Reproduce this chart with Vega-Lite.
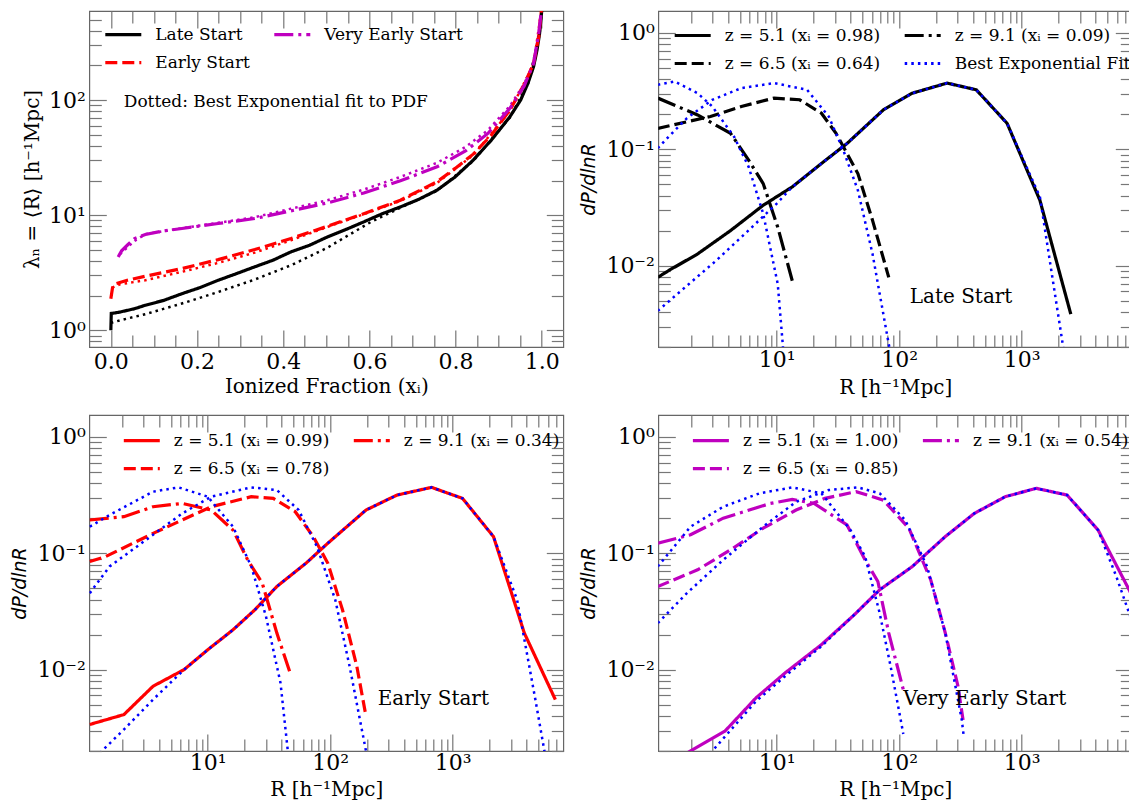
{
  "$schema": "https://vega.github.io/schema/vega-lite/v6.json",
  "autosize": {"type": "none"},
  "padding": {"left": 89.3, "top": 11, "right": 1040, "bottom": 792},
  "background": "white",
  "config": {
    "view": {"stroke": "#666", "strokeWidth": 1.2},
    "axis": {"grid": false, "domain": false, "tickColor": "#777", "tickWidth": 1.2, "labelFont": "DejaVu Serif", "labelFontSize": 22, "labelColor": "black", "titleFont": "DejaVu Serif", "titleFontSize": 20, "titleFontWeight": "normal", "titleColor": "black", "labelOverlap": false, "labelFlush": false},
    "legend": {"columns": 2, "columnPadding": 17, "gridAlign": "each", "rowPadding": -11, "symbolType": "stroke", "symbolSize": 1296, "symbolStrokeWidth": 3.2, "labelFont": "DejaVu Serif", "labelFontSize": 17, "labelOffset": 12, "labelLimit": 600, "labelColor": "black", "padding": 0}
  },
  "datasets": {
    "p1": [
      {"m": "Late Start", "x": 0, "y": 1.0}, {"m": "Late Start", "x": 0.001, "y": 1.40}, {"m": "Late Start", "x": 0.021, "y": 1.44}, {"m": "Late Start", "x": 0.055, "y": 1.54}, {"m": "Late Start", "x": 0.080, "y": 1.65}, {"m": "Late Start", "x": 0.123, "y": 1.82}, {"m": "Late Start", "x": 0.165, "y": 2.08}, {"m": "Late Start", "x": 0.207, "y": 2.35}, {"m": "Late Start", "x": 0.249, "y": 2.72}, {"m": "Late Start", "x": 0.292, "y": 3.11}, {"m": "Late Start", "x": 0.334, "y": 3.56}, {"m": "Late Start", "x": 0.376, "y": 4.06}, {"m": "Late Start", "x": 0.418, "y": 4.80}, {"m": "Late Start", "x": 0.461, "y": 5.48}, {"m": "Late Start", "x": 0.503, "y": 6.48}, {"m": "Late Start", "x": 0.545, "y": 7.50}, {"m": "Late Start", "x": 0.587, "y": 8.75}, {"m": "Late Start", "x": 0.630, "y": 10.3}, {"m": "Late Start", "x": 0.672, "y": 11.8}, {"m": "Late Start", "x": 0.714, "y": 13.7}, {"m": "Late Start", "x": 0.757, "y": 16.5}, {"m": "Late Start", "x": 0.799, "y": 21.5}, {"m": "Late Start", "x": 0.841, "y": 30.1}, {"m": "Late Start", "x": 0.883, "y": 44.9}, {"m": "Late Start", "x": 0.926, "y": 71.6}, {"m": "Late Start", "x": 0.951, "y": 100}, {"m": "Late Start", "x": 0.968, "y": 140}, {"m": "Late Start", "x": 0.981, "y": 195}, {"m": "Late Start", "x": 0.989, "y": 272}, {"m": "Late Start", "x": 0.995, "y": 380}, {"m": "Late Start", "x": 1.0, "y": 600},
      {"m": "Early Start", "x": 0, "y": 1.88}, {"m": "Early Start", "x": 0.004, "y": 2.35}, {"m": "Early Start", "x": 0.013, "y": 2.55}, {"m": "Early Start", "x": 0.038, "y": 2.72}, {"m": "Early Start", "x": 0.080, "y": 2.95}, {"m": "Early Start", "x": 0.165, "y": 3.44}, {"m": "Early Start", "x": 0.249, "y": 4.11}, {"m": "Early Start", "x": 0.334, "y": 5.03}, {"m": "Early Start", "x": 0.418, "y": 6.27}, {"m": "Early Start", "x": 0.503, "y": 8.02}, {"m": "Early Start", "x": 0.587, "y": 10.3}, {"m": "Early Start", "x": 0.672, "y": 13.5}, {"m": "Early Start", "x": 0.757, "y": 19.5}, {"m": "Early Start", "x": 0.799, "y": 25.5}, {"m": "Early Start", "x": 0.841, "y": 33.9}, {"m": "Early Start", "x": 0.883, "y": 49.6}, {"m": "Early Start", "x": 0.926, "y": 81.8}, {"m": "Early Start", "x": 0.959, "y": 135}, {"m": "Early Start", "x": 0.981, "y": 208}, {"m": "Early Start", "x": 0.993, "y": 355}, {"m": "Early Start", "x": 0.999, "y": 600},
      {"m": "Very Early Start", "x": 0.017, "y": 4.34}, {"m": "Very Early Start", "x": 0.025, "y": 4.90}, {"m": "Very Early Start", "x": 0.038, "y": 5.48}, {"m": "Very Early Start", "x": 0.055, "y": 6.27}, {"m": "Very Early Start", "x": 0.080, "y": 6.79}, {"m": "Very Early Start", "x": 0.123, "y": 7.31}, {"m": "Very Early Start", "x": 0.165, "y": 7.66}, {"m": "Very Early Start", "x": 0.249, "y": 8.47}, {"m": "Very Early Start", "x": 0.334, "y": 9.35}, {"m": "Very Early Start", "x": 0.418, "y": 10.9}, {"m": "Very Early Start", "x": 0.503, "y": 12.8}, {"m": "Very Early Start", "x": 0.587, "y": 15.6}, {"m": "Very Early Start", "x": 0.672, "y": 19.9}, {"m": "Very Early Start", "x": 0.757, "y": 26.3}, {"m": "Very Early Start", "x": 0.824, "y": 36.3}, {"m": "Very Early Start", "x": 0.875, "y": 51.3}, {"m": "Very Early Start", "x": 0.926, "y": 84.7}, {"m": "Very Early Start", "x": 0.959, "y": 132}, {"m": "Very Early Start", "x": 0.981, "y": 208}, {"m": "Very Early Start", "x": 0.993, "y": 380}, {"m": "Very Early Start", "x": 0.999, "y": 600}
    ],
    "p1d": [
      {"m": "Late Start", "x": 0, "y": 1.16}, {"m": "Late Start", "x": 0.021, "y": 1.22}, {"m": "Late Start", "x": 0.080, "y": 1.38}, {"m": "Late Start", "x": 0.165, "y": 1.71}, {"m": "Late Start", "x": 0.249, "y": 2.15}, {"m": "Late Start", "x": 0.334, "y": 2.76}, {"m": "Late Start", "x": 0.418, "y": 3.67}, {"m": "Late Start", "x": 0.503, "y": 5.23}, {"m": "Late Start", "x": 0.554, "y": 6.79}, {"m": "Late Start", "x": 0.604, "y": 8.75}, {"m": "Late Start", "x": 0.672, "y": 11.6}, {"m": "Late Start", "x": 0.757, "y": 16.3}, {"m": "Late Start", "x": 0.841, "y": 29.6}, {"m": "Late Start", "x": 0.926, "y": 70.5}, {"m": "Late Start", "x": 0.968, "y": 138}, {"m": "Late Start", "x": 0.995, "y": 375}, {"m": "Late Start", "x": 1.0, "y": 600},
      {"m": "Early Start", "x": 0.003, "y": 2.35}, {"m": "Early Start", "x": 0.021, "y": 2.51}, {"m": "Early Start", "x": 0.080, "y": 2.72}, {"m": "Early Start", "x": 0.165, "y": 3.22}, {"m": "Early Start", "x": 0.249, "y": 3.85}, {"m": "Early Start", "x": 0.334, "y": 4.73}, {"m": "Early Start", "x": 0.418, "y": 6.06}, {"m": "Early Start", "x": 0.503, "y": 7.92}, {"m": "Early Start", "x": 0.587, "y": 10.2}, {"m": "Early Start", "x": 0.672, "y": 13.3}, {"m": "Early Start", "x": 0.757, "y": 19.1}, {"m": "Early Start", "x": 0.841, "y": 33.2}, {"m": "Early Start", "x": 0.926, "y": 80}, {"m": "Early Start", "x": 0.981, "y": 205}, {"m": "Early Start", "x": 0.999, "y": 600},
      {"m": "Very Early Start", "x": 0.021, "y": 4.58}, {"m": "Very Early Start", "x": 0.055, "y": 5.98}, {"m": "Very Early Start", "x": 0.080, "y": 6.84}, {"m": "Very Early Start", "x": 0.165, "y": 7.71}, {"m": "Very Early Start", "x": 0.249, "y": 8.58}, {"m": "Very Early Start", "x": 0.334, "y": 9.61}, {"m": "Very Early Start", "x": 0.418, "y": 11.4}, {"m": "Very Early Start", "x": 0.503, "y": 13.5}, {"m": "Very Early Start", "x": 0.587, "y": 16.7}, {"m": "Very Early Start", "x": 0.672, "y": 21.5}, {"m": "Very Early Start", "x": 0.757, "y": 28.5}, {"m": "Very Early Start", "x": 0.824, "y": 39.3}, {"m": "Very Early Start", "x": 0.875, "y": 54.8}, {"m": "Very Early Start", "x": 0.926, "y": 88.7}, {"m": "Very Early Start", "x": 0.959, "y": 138}, {"m": "Very Early Start", "x": 0.981, "y": 211}, {"m": "Very Early Start", "x": 0.993, "y": 380}, {"m": "Very Early Start", "x": 0.999, "y": 600}
    ],
    "p2": [
      {"s": "z = 5.1 (xᵢ = 0.98)", "R": 1.07, "P": 0.00793}, {"s": "z = 5.1 (xᵢ = 0.98)", "R": 1.31, "P": 0.00906}, {"s": "z = 5.1 (xᵢ = 0.98)", "R": 2.26, "P": 0.0126}, {"s": "z = 5.1 (xᵢ = 0.98)", "R": 4.20, "P": 0.0200}, {"s": "z = 5.1 (xᵢ = 0.98)", "R": 7.76, "P": 0.0330}, {"s": "z = 5.1 (xᵢ = 0.98)", "R": 13.4, "P": 0.0475}, {"s": "z = 5.1 (xᵢ = 0.98)", "R": 23.2, "P": 0.0755}, {"s": "z = 5.1 (xᵢ = 0.98)", "R": 37.5, "P": 0.112}, {"s": "z = 5.1 (xᵢ = 0.98)", "R": 74.3, "P": 0.218}, {"s": "z = 5.1 (xᵢ = 0.98)", "R": 128, "P": 0.303}, {"s": "z = 5.1 (xᵢ = 0.98)", "R": 246, "P": 0.370}, {"s": "z = 5.1 (xᵢ = 0.98)", "R": 426, "P": 0.324}, {"s": "z = 5.1 (xᵢ = 0.98)", "R": 760, "P": 0.167}, {"s": "z = 5.1 (xᵢ = 0.98)", "R": 1409, "P": 0.0364}, {"s": "z = 5.1 (xᵢ = 0.98)", "R": 2518, "P": 0.00383},
      {"s": "z = 6.5 (xᵢ = 0.64)", "R": 1.07, "P": 0.151}, {"s": "z = 6.5 (xᵢ = 0.64)", "R": 2.88, "P": 0.191}, {"s": "z = 6.5 (xᵢ = 0.64)", "R": 5.15, "P": 0.233}, {"s": "z = 6.5 (xᵢ = 0.64)", "R": 9.53, "P": 0.275}, {"s": "z = 6.5 (xᵢ = 0.64)", "R": 15.4, "P": 0.266}, {"s": "z = 6.5 (xᵢ = 0.64)", "R": 23.2, "P": 0.204}, {"s": "z = 6.5 (xᵢ = 0.64)", "R": 30.5, "P": 0.137}, {"s": "z = 6.5 (xᵢ = 0.64)", "R": 46.0, "P": 0.0618}, {"s": "z = 6.5 (xᵢ = 0.64)", "R": 60.6, "P": 0.0245}, {"s": "z = 6.5 (xᵢ = 0.64)", "R": 82.2, "P": 0.00793},
      {"s": "z = 9.1 (xᵢ = 0.09)", "R": 1.07, "P": 0.275}, {"s": "z = 9.1 (xᵢ = 0.09)", "R": 2.26, "P": 0.197}, {"s": "z = 9.1 (xᵢ = 0.09)", "R": 4.20, "P": 0.137}, {"s": "z = 9.1 (xᵢ = 0.09)", "R": 5.90, "P": 0.0806}, {"s": "z = 9.1 (xᵢ = 0.09)", "R": 7.76, "P": 0.0507}, {"s": "z = 9.1 (xᵢ = 0.09)", "R": 10.2, "P": 0.0214}, {"s": "z = 9.1 (xᵢ = 0.09)", "R": 13.4, "P": 0.00742}
    ],
    "p2f": [
      {"c": "a", "R": 1.07, "P": 0.00409}, {"c": "a", "R": 1.85, "P": 0.00672}, {"c": "a", "R": 3.19, "P": 0.0110}, {"c": "a", "R": 5.51, "P": 0.0188}, {"c": "a", "R": 10, "P": 0.0341}, {"c": "a", "R": 13.4, "P": 0.0475}, {"c": "a", "R": 23.2, "P": 0.0755}, {"c": "a", "R": 37.5, "P": 0.112}, {"c": "a", "R": 74.3, "P": 0.218}, {"c": "a", "R": 128, "P": 0.303}, {"c": "a", "R": 246, "P": 0.370}, {"c": "a", "R": 426, "P": 0.324}, {"c": "a", "R": 760, "P": 0.167}, {"c": "a", "R": 1409, "P": 0.0389}, {"c": "a", "R": 2198, "P": 0.0019}, {"c": "a", "R": 2260, "P": 0.0014},
      {"c": "b", "R": 1.07, "P": 0.102}, {"c": "b", "R": 1.31, "P": 0.128}, {"c": "b", "R": 1.85, "P": 0.185}, {"c": "b", "R": 2.98, "P": 0.266}, {"c": "b", "R": 5.15, "P": 0.335}, {"c": "b", "R": 9.53, "P": 0.370}, {"c": "b", "R": 17.7, "P": 0.324}, {"c": "b", "R": 26.6, "P": 0.191}, {"c": "b", "R": 35, "P": 0.098}, {"c": "b", "R": 46, "P": 0.0444}, {"c": "b", "R": 60.6, "P": 0.0126}, {"c": "b", "R": 79.5, "P": 0.00257}, {"c": "b", "R": 85.1, "P": 0.00173},
      {"c": "c", "R": 1.07, "P": 0.358}, {"c": "c", "R": 1.47, "P": 0.382}, {"c": "c", "R": 2.26, "P": 0.303}, {"c": "c", "R": 2.98, "P": 0.233}, {"c": "c", "R": 4.49, "P": 0.128}, {"c": "c", "R": 5.90, "P": 0.0706}, {"c": "c", "R": 7.76, "P": 0.0279}, {"c": "c", "R": 10.2, "P": 0.00695}, {"c": "c", "R": 11.3, "P": 0.0019}, {"c": "c", "R": 11.6, "P": 0.0014}
    ],
    "p3": [
      {"s": "z = 5.1 (xᵢ = 0.99)", "R": 1.09, "P": 0.00338}, {"s": "z = 5.1 (xᵢ = 0.99)", "R": 2.07, "P": 0.00411}, {"s": "z = 5.1 (xᵢ = 0.99)", "R": 3.58, "P": 0.00720}, {"s": "z = 5.1 (xᵢ = 0.99)", "R": 6.41, "P": 0.0100}, {"s": "z = 5.1 (xᵢ = 0.99)", "R": 10, "P": 0.0148}, {"s": "z = 5.1 (xᵢ = 0.99)", "R": 16.1, "P": 0.0220}, {"s": "z = 5.1 (xᵢ = 0.99)", "R": 24.3, "P": 0.0327}, {"s": "z = 5.1 (xᵢ = 0.99)", "R": 36.7, "P": 0.0518}, {"s": "z = 5.1 (xᵢ = 0.99)", "R": 63.4, "P": 0.082}, {"s": "z = 5.1 (xᵢ = 0.99)", "R": 95.7, "P": 0.122}, {"s": "z = 5.1 (xᵢ = 0.99)", "R": 196, "P": 0.235}, {"s": "z = 5.1 (xᵢ = 0.99)", "R": 351, "P": 0.316}, {"s": "z = 5.1 (xᵢ = 0.99)", "R": 673, "P": 0.368}, {"s": "z = 5.1 (xᵢ = 0.99)", "R": 1203, "P": 0.296}, {"s": "z = 5.1 (xᵢ = 0.99)", "R": 2153, "P": 0.139}, {"s": "z = 5.1 (xᵢ = 0.99)", "R": 3846, "P": 0.0206}, {"s": "z = 5.1 (xᵢ = 0.99)", "R": 6887, "P": 0.00553},
      {"s": "z = 6.5 (xᵢ = 0.78)", "R": 1.09, "P": 0.0849}, {"s": "z = 6.5 (xᵢ = 0.78)", "R": 1.47, "P": 0.0936}, {"s": "z = 6.5 (xᵢ = 0.78)", "R": 3.58, "P": 0.148}, {"s": "z = 6.5 (xᵢ = 0.78)", "R": 6.20, "P": 0.193}, {"s": "z = 6.5 (xᵢ = 0.78)", "R": 10.7, "P": 0.251}, {"s": "z = 6.5 (xᵢ = 0.78)", "R": 22.7, "P": 0.306}, {"s": "z = 6.5 (xᵢ = 0.78)", "R": 34.3, "P": 0.296}, {"s": "z = 6.5 (xᵢ = 0.78)", "R": 51.7, "P": 0.228}, {"s": "z = 6.5 (xᵢ = 0.78)", "R": 72.8, "P": 0.139}, {"s": "z = 6.5 (xᵢ = 0.78)", "R": 95.7, "P": 0.082}, {"s": "z = 6.5 (xᵢ = 0.78)", "R": 126, "P": 0.0327}, {"s": "z = 6.5 (xᵢ = 0.78)", "R": 165, "P": 0.0107}, {"s": "z = 6.5 (xᵢ = 0.78)", "R": 196, "P": 0.00398},
      {"s": "z = 9.1 (xᵢ = 0.34)", "R": 1.09, "P": 0.193}, {"s": "z = 9.1 (xᵢ = 0.34)", "R": 2.07, "P": 0.206}, {"s": "z = 9.1 (xᵢ = 0.34)", "R": 3.58, "P": 0.251}, {"s": "z = 9.1 (xᵢ = 0.34)", "R": 6.2, "P": 0.268}, {"s": "z = 9.1 (xᵢ = 0.34)", "R": 10.7, "P": 0.235}, {"s": "z = 9.1 (xᵢ = 0.34)", "R": 16.1, "P": 0.158}, {"s": "z = 9.1 (xᵢ = 0.34)", "R": 21.2, "P": 0.0877}, {"s": "z = 9.1 (xᵢ = 0.34)", "R": 27.9, "P": 0.0553}, {"s": "z = 9.1 (xᵢ = 0.34)", "R": 36.7, "P": 0.0206}, {"s": "z = 9.1 (xᵢ = 0.34)", "R": 46.6, "P": 0.00968}
    ],
    "p3f": [
      {"c": "a", "R": 1.25, "P": 0.0017}, {"c": "a", "R": 1.37, "P": 0.002}, {"c": "a", "R": 2.07, "P": 0.00306}, {"c": "a", "R": 3.58, "P": 0.00553}, {"c": "a", "R": 6.41, "P": 0.0100}, {"c": "a", "R": 10, "P": 0.0148}, {"c": "a", "R": 16.1, "P": 0.0220}, {"c": "a", "R": 24.3, "P": 0.0327}, {"c": "a", "R": 36.7, "P": 0.0518}, {"c": "a", "R": 63.4, "P": 0.082}, {"c": "a", "R": 95.7, "P": 0.122}, {"c": "a", "R": 196, "P": 0.235}, {"c": "a", "R": 351, "P": 0.316}, {"c": "a", "R": 673, "P": 0.368}, {"c": "a", "R": 1203, "P": 0.296}, {"c": "a", "R": 2153, "P": 0.139}, {"c": "a", "R": 3357, "P": 0.0398}, {"c": "a", "R": 4732, "P": 0.00553}, {"c": "a", "R": 5610, "P": 0.002}, {"c": "a", "R": 5900, "P": 0.0014},
      {"c": "b", "R": 1.09, "P": 0.0454}, {"c": "b", "R": 1.58, "P": 0.0769}, {"c": "b", "R": 3.13, "P": 0.130}, {"c": "b", "R": 6.20, "P": 0.220}, {"c": "b", "R": 10.7, "P": 0.306}, {"c": "b", "R": 22.7, "P": 0.368}, {"c": "b", "R": 36.7, "P": 0.349}, {"c": "b", "R": 55.3, "P": 0.235}, {"c": "b", "R": 78, "P": 0.114}, {"c": "b", "R": 110, "P": 0.0398}, {"c": "b", "R": 144, "P": 0.0107}, {"c": "b", "R": 196, "P": 0.002}, {"c": "b", "R": 205, "P": 0.0015},
      {"c": "c", "R": 1.09, "P": 0.169}, {"c": "c", "R": 1.58, "P": 0.213}, {"c": "c", "R": 3.58, "P": 0.338}, {"c": "c", "R": 5.78, "P": 0.368}, {"c": "c", "R": 10, "P": 0.306}, {"c": "c", "R": 16.1, "P": 0.169}, {"c": "c", "R": 22.7, "P": 0.0769}, {"c": "c", "R": 29.9, "P": 0.0287}, {"c": "c", "R": 39.3, "P": 0.00769}, {"c": "c", "R": 45.1, "P": 0.002}, {"c": "c", "R": 46.5, "P": 0.0015}
    ],
    "p4": [
      {"s": "z = 5.1 (xᵢ = 1.00)", "R": 1.5, "P": 0.0017}, {"s": "z = 5.1 (xᵢ = 1.00)", "R": 1.98, "P": 0.002}, {"s": "z = 5.1 (xᵢ = 1.00)", "R": 3.78, "P": 0.00296}, {"s": "z = 5.1 (xᵢ = 1.00)", "R": 6.78, "P": 0.00572}, {"s": "z = 5.1 (xᵢ = 1.00)", "R": 11.7, "P": 0.00936}, {"s": "z = 5.1 (xᵢ = 1.00)", "R": 23.2, "P": 0.0164}, {"s": "z = 5.1 (xᵢ = 1.00)", "R": 43, "P": 0.0296}, {"s": "z = 5.1 (xᵢ = 1.00)", "R": 69.3, "P": 0.0485}, {"s": "z = 5.1 (xᵢ = 1.00)", "R": 128, "P": 0.0769}, {"s": "z = 5.1 (xᵢ = 1.00)", "R": 238, "P": 0.139}, {"s": "z = 5.1 (xᵢ = 1.00)", "R": 411, "P": 0.220}, {"s": "z = 5.1 (xᵢ = 1.00)", "R": 735, "P": 0.306}, {"s": "z = 5.1 (xᵢ = 1.00)", "R": 1315, "P": 0.361}, {"s": "z = 5.1 (xᵢ = 1.00)", "R": 2350, "P": 0.316}, {"s": "z = 5.1 (xᵢ = 1.00)", "R": 4207, "P": 0.158}, {"s": "z = 5.1 (xᵢ = 1.00)", "R": 7536, "P": 0.0485}, {"s": "z = 5.1 (xᵢ = 1.00)", "R": 8500, "P": 0.038},
      {"s": "z = 6.5 (xᵢ = 0.85)", "R": 1.07, "P": 0.0518}, {"s": "z = 6.5 (xᵢ = 0.85)", "R": 2.26, "P": 0.072}, {"s": "z = 6.5 (xᵢ = 0.85)", "R": 4.20, "P": 0.107}, {"s": "z = 6.5 (xᵢ = 0.85)", "R": 7.76, "P": 0.164}, {"s": "z = 6.5 (xᵢ = 0.85)", "R": 14.4, "P": 0.235}, {"s": "z = 6.5 (xᵢ = 0.85)", "R": 24.8, "P": 0.296}, {"s": "z = 6.5 (xᵢ = 0.85)", "R": 44.5, "P": 0.338}, {"s": "z = 6.5 (xᵢ = 0.85)", "R": 74.3, "P": 0.286}, {"s": "z = 6.5 (xᵢ = 0.85)", "R": 120, "P": 0.164}, {"s": "z = 6.5 (xᵢ = 0.85)", "R": 181, "P": 0.059}, {"s": "z = 6.5 (xᵢ = 0.85)", "R": 238, "P": 0.0206}, {"s": "z = 6.5 (xᵢ = 0.85)", "R": 302, "P": 0.0072}, {"s": "z = 6.5 (xᵢ = 0.85)", "R": 335, "P": 0.00349},
      {"s": "z = 9.1 (xᵢ = 0.54)", "R": 1.07, "P": 0.122}, {"s": "z = 9.1 (xᵢ = 0.54)", "R": 1.98, "P": 0.144}, {"s": "z = 9.1 (xᵢ = 0.54)", "R": 3.66, "P": 0.2}, {"s": "z = 9.1 (xᵢ = 0.54)", "R": 8.9, "P": 0.268}, {"s": "z = 9.1 (xᵢ = 0.54)", "R": 13.4, "P": 0.29}, {"s": "z = 9.1 (xᵢ = 0.54)", "R": 20.2, "P": 0.268}, {"s": "z = 9.1 (xᵢ = 0.54)", "R": 37.5, "P": 0.175}, {"s": "z = 9.1 (xᵢ = 0.54)", "R": 52.7, "P": 0.0877}, {"s": "z = 9.1 (xᵢ = 0.54)", "R": 67, "P": 0.0572}, {"s": "z = 9.1 (xᵢ = 0.54)", "R": 82.2, "P": 0.0206}, {"s": "z = 9.1 (xᵢ = 0.54)", "R": 108, "P": 0.00674}
    ],
    "p4f": [
      {"c": "a", "R": 2.7, "P": 0.0017}, {"c": "a", "R": 2.98, "P": 0.002}, {"c": "a", "R": 6.78, "P": 0.00535}, {"c": "a", "R": 11.7, "P": 0.00877}, {"c": "a", "R": 23.2, "P": 0.0159}, {"c": "a", "R": 43, "P": 0.0296}, {"c": "a", "R": 69.3, "P": 0.0485}, {"c": "a", "R": 128, "P": 0.0769}, {"c": "a", "R": 238, "P": 0.139}, {"c": "a", "R": 411, "P": 0.220}, {"c": "a", "R": 735, "P": 0.306}, {"c": "a", "R": 1315, "P": 0.361}, {"c": "a", "R": 2350, "P": 0.316}, {"c": "a", "R": 4207, "P": 0.158}, {"c": "a", "R": 5929, "P": 0.063}, {"c": "a", "R": 7536, "P": 0.0306}, {"c": "a", "R": 8500, "P": 0.0214},
      {"c": "b", "R": 1.07, "P": 0.0251}, {"c": "b", "R": 1.85, "P": 0.0454}, {"c": "b", "R": 3.66, "P": 0.0877}, {"c": "b", "R": 7.76, "P": 0.169}, {"c": "b", "R": 14.4, "P": 0.277}, {"c": "b", "R": 26.6, "P": 0.349}, {"c": "b", "R": 46, "P": 0.368}, {"c": "b", "R": 69.3, "P": 0.327}, {"c": "b", "R": 112, "P": 0.193}, {"c": "b", "R": 169, "P": 0.0769}, {"c": "b", "R": 238, "P": 0.0206}, {"c": "b", "R": 324, "P": 0.00373}, {"c": "b", "R": 335, "P": 0.0028},
      {"c": "c", "R": 1.07, "P": 0.0769}, {"c": "c", "R": 1.98, "P": 0.169}, {"c": "c", "R": 3.66, "P": 0.251}, {"c": "c", "R": 7.24, "P": 0.327}, {"c": "c", "R": 13.4, "P": 0.368}, {"c": "c", "R": 23.2, "P": 0.327}, {"c": "c", "R": 40.1, "P": 0.158}, {"c": "c", "R": 52.7, "P": 0.0936}, {"c": "c", "R": 69.3, "P": 0.0306}, {"c": "c", "R": 85.1, "P": 0.0107}, {"c": "c", "R": 104, "P": 0.00349}, {"c": "c", "R": 108, "P": 0.0028}
    ]
  },
  "columns": 2,
  "spacing": {"row": 68, "column": 95},
  "bounds": "flush",
  "resolve": {"scale": {"color": "independent", "strokeDash": "independent", "x": "independent", "y": "independent"}, "legend": {"color": "independent", "strokeDash": "independent"}},
  "concat": [
    {
      "width": 474, "height": 336,
      "resolve": {"axis": {"x": "independent", "y": "independent"}},
      "layer": [
        {
          "data": {"name": "p1d"},
          "mark": {"type": "line", "clip": true, "strokeWidth": 2.5, "strokeDash": [2.5, 4.1]},
          "encoding": {
            "x": {"field": "x", "type": "quantitative", "scale": {"domain": [-0.05, 1.05], "nice": false, "zero": false},
                  "axis": {"orient": "top", "labels": false, "title": null, "values": [0,0.05,0.1,0.15,0.2,0.25,0.3,0.35,0.4,0.45,0.5,0.55,0.6,0.65,0.7,0.75,0.8,0.85,0.9,0.95,1.0],
                           "tickSize": {"condition": {"test": "abs(datum.value*5 - round(datum.value*5)) < 0.001", "value": -17}, "value": -12}}},
            "y": {"field": "y", "type": "quantitative", "scale": {"type": "log", "domain": [0.716, 594], "nice": false, "zero": false},
                  "axis": {"orient": "right", "labels": false, "title": null, "values": [0.8,0.9,1,2,3,4,5,6,7,8,9,10,20,30,40,50,60,70,80,90,100,200,300,400,500],
                           "tickSize": {"condition": {"test": "datum.value==1||datum.value==10||datum.value==100", "value": -17}, "value": -12}}},
            "color": {"field": "m", "type": "nominal", "scale": {"domain": ["Late Start", "Early Start", "Very Early Start"], "range": ["black", "red", "#bf00bf"]},
                      "legend": {"title": null, "orient": "none", "legendX": 14, "legendY": 3.6}}
          }
        },
        {
          "data": {"name": "p1"},
          "mark": {"type": "line", "clip": true, "strokeWidth": 3.2},
          "encoding": {
            "x": {"field": "x", "type": "quantitative", "scale": {"domain": [-0.05, 1.05], "nice": false, "zero": false},
                  "axis": {"orient": "bottom", "title": "Ionized Fraction (xᵢ)", "titleX": 237, "titleY": 39, "titleBaseline": "middle", "values": [0,0.05,0.1,0.15,0.2,0.25,0.3,0.35,0.4,0.45,0.5,0.55,0.6,0.65,0.7,0.75,0.8,0.85,0.9,0.95,1.0],
                           "labelExpr": "abs(datum.value*5 - round(datum.value*5)) < 0.001 ? format(datum.value, '.1f') : ''",
                           "tickSize": {"condition": {"test": "abs(datum.value*5 - round(datum.value*5)) < 0.001", "value": -17}, "value": -12}, "labelPadding": 21}},
            "y": {"field": "y", "type": "quantitative", "scale": {"type": "log", "domain": [0.716, 594], "nice": false, "zero": false},
                  "axis": {"orient": "left", "title": "λₙ = ⟨R⟩ [h⁻¹Mpc]", "titleX": -57, "titleY": 168, "titleBaseline": "middle", "values": [0.8,0.9,1,2,3,4,5,6,7,8,9,10,20,30,40,50,60,70,80,90,100,200,300,400,500],
                           "labelExpr": "datum.value==1 ? '10⁰' : datum.value==10 ? '10¹' : datum.value==100 ? '10²' : ''",
                           "tickSize": {"condition": {"test": "datum.value==1||datum.value==10||datum.value==100", "value": -17}, "value": -12}, "labelPadding": 21}},
            "color": {"field": "m", "type": "nominal", "scale": {"domain": ["Late Start", "Early Start", "Very Early Start"], "range": ["black", "red", "#bf00bf"]},
                      "legend": {"title": null, "orient": "none", "legendX": 14, "legendY": 3.6}},
            "strokeDash": {"field": "m", "type": "nominal", "scale": {"domain": ["Late Start", "Early Start", "Very Early Start"], "range": [[1, 0], [12, 5], [19, 5, 3, 5]]},
                      "legend": {"title": null, "orient": "none", "legendX": 14, "legendY": 3.6}}
          }
        },
        {
          "data": {"values": [{"x": 0.03, "y": 87.5, "t": "Dotted: Best Exponential fit to PDF"}]},
          "mark": {"type": "text", "align": "left", "baseline": "alphabetic", "font": "DejaVu Serif", "fontSize": 17, "color": "black"},
          "encoding": {
            "x": {"field": "x", "type": "quantitative", "axis": null},
            "y": {"field": "y", "type": "quantitative", "axis": null},
            "text": {"field": "t"}
          }
        }
      ]
    },
    {
      "width": 474, "height": 336,
      "resolve": {"axis": {"x": "independent", "y": "independent"}},
      "layer": [
        {
          "data": {"name": "p2"},
          "mark": {"type": "line", "clip": true, "strokeWidth": 3.2},
          "encoding": {
            "x": {"field": "R", "type": "quantitative", "scale": {"type": "log", "domain": [1.08, 8000], "nice": false},
                  "axis": {"orient": "bottom", "title": "R [h⁻¹Mpc]", "titleX": 237, "titleY": 40, "titleBaseline": "middle", "values": [2,3,4,5,6,7,8,9,10,20,30,40,50,60,70,80,90,100,200,300,400,500,600,700,800,900,1000,2000,3000,4000,5000,6000,7000],
                           "labelExpr": "datum.value==10 ? '10¹' : datum.value==100 ? '10²' : datum.value==1000 ? '10³' : ''",
                           "tickSize": {"condition": {"test": "datum.value==10||datum.value==100||datum.value==1000", "value": -17}, "value": -12}, "labelPadding": 19}},
            "y": {"field": "P", "type": "quantitative", "scale": {"type": "log", "domain": [0.002, 1.54], "nice": false},
                  "axis": {"orient": "left", "title": "dP/dlnR", "titleFont": "DejaVu Sans", "titleFontStyle": "italic", "titleFontSize": 19, "titleX": -70, "titleY": 168, "titleBaseline": "middle", "values": [0.002,0.003,0.004,0.005,0.006,0.007,0.008,0.009,0.01,0.02,0.03,0.04,0.05,0.06,0.07,0.08,0.09,0.1,0.2,0.3,0.4,0.5,0.6,0.7,0.8,0.9,1],
                           "labelExpr": "datum.value==1 ? '10⁰' : datum.value==0.1 ? '10⁻¹' : datum.value==0.01 ? '10⁻²' : ''",
                           "tickSize": {"condition": {"test": "datum.value==1||datum.value==0.1||datum.value==0.01", "value": -17}, "value": -12}, "labelPadding": 21}},
            "color": {"field": "s", "type": "nominal", "scale": {"domain": ["z = 5.1 (xᵢ = 0.98)", "z = 6.5 (xᵢ = 0.64)", "z = 9.1 (xᵢ = 0.09)", "Best Exponential Fit"], "range": ["black", "black", "black", "blue"]},
                      "legend": {"title": null, "orient": "none", "legendX": 14.4, "legendY": 4.5}},
            "strokeDash": {"field": "s", "type": "nominal", "scale": {"domain": ["z = 5.1 (xᵢ = 0.98)", "z = 6.5 (xᵢ = 0.64)", "z = 9.1 (xᵢ = 0.09)", "Best Exponential Fit"], "range": [[1, 0], [12, 5], [19, 5, 3, 5], [2.5, 4.1]]},
                      "legend": {"title": null, "orient": "none", "legendX": 14.4, "legendY": 4.5}}
          }
        },
        {
          "data": {"name": "p2f"},
          "mark": {"type": "line", "clip": true, "strokeWidth": 2.5, "color": "blue", "strokeDash": [2.5, 4.1]},
          "encoding": {
            "x": {"field": "R", "type": "quantitative", "scale": {"type": "log", "domain": [1.08, 8000], "nice": false},
                  "axis": {"orient": "top", "labels": false, "title": null, "values": [2,3,4,5,6,7,8,9,10,20,30,40,50,60,70,80,90,100,200,300,400,500,600,700,800,900,1000,2000,3000,4000,5000,6000,7000],
                           "tickSize": {"condition": {"test": "datum.value==10||datum.value==100||datum.value==1000", "value": -17}, "value": -12}}},
            "y": {"field": "P", "type": "quantitative", "scale": {"type": "log", "domain": [0.002, 1.54], "nice": false},
                  "axis": {"orient": "right", "labels": false, "title": null, "values": [0.002,0.003,0.004,0.005,0.006,0.007,0.008,0.009,0.01,0.02,0.03,0.04,0.05,0.06,0.07,0.08,0.09,0.1,0.2,0.3,0.4,0.5,0.6,0.7,0.8,0.9,1],
                           "tickSize": {"condition": {"test": "datum.value==1||datum.value==0.1||datum.value==0.01", "value": -17}, "value": -12}}},
            "detail": {"field": "c", "type": "nominal"}
          }
        },
        {
          "data": {"values": [{"R": 122, "P": 0.0048, "t": "Late Start"}]},
          "mark": {"type": "text", "align": "left", "baseline": "alphabetic", "font": "DejaVu Serif", "fontSize": 20, "color": "black"},
          "encoding": {
            "x": {"field": "R", "type": "quantitative", "axis": null},
            "y": {"field": "P", "type": "quantitative", "axis": null},
            "text": {"field": "t"}
          }
        }
      ]
    },
    {
      "width": 474, "height": 336,
      "resolve": {"axis": {"x": "independent", "y": "independent"}},
      "layer": [
        {
          "data": {"name": "p3"},
          "mark": {"type": "line", "clip": true, "strokeWidth": 3.2},
          "encoding": {
            "x": {"field": "R", "type": "quantitative", "scale": {"type": "log", "domain": [1.08, 8000], "nice": false},
                  "axis": {"orient": "bottom", "title": "R [h⁻¹Mpc]", "titleX": 237, "titleY": 39, "titleBaseline": "middle", "values": [2,3,4,5,6,7,8,9,10,20,30,40,50,60,70,80,90,100,200,300,400,500,600,700,800,900,1000,2000,3000,4000,5000,6000,7000],
                           "labelExpr": "datum.value==10 ? '10¹' : datum.value==100 ? '10²' : datum.value==1000 ? '10³' : ''",
                           "tickSize": {"condition": {"test": "datum.value==10||datum.value==100||datum.value==1000", "value": -17}, "value": -12}, "labelPadding": 19}},
            "y": {"field": "P", "type": "quantitative", "scale": {"type": "log", "domain": [0.002, 1.54], "nice": false},
                  "axis": {"orient": "left", "title": "dP/dlnR", "titleFont": "DejaVu Sans", "titleFontStyle": "italic", "titleFontSize": 19, "titleX": -70, "titleY": 168, "titleBaseline": "middle", "values": [0.002,0.003,0.004,0.005,0.006,0.007,0.008,0.009,0.01,0.02,0.03,0.04,0.05,0.06,0.07,0.08,0.09,0.1,0.2,0.3,0.4,0.5,0.6,0.7,0.8,0.9,1],
                           "labelExpr": "datum.value==1 ? '10⁰' : datum.value==0.1 ? '10⁻¹' : datum.value==0.01 ? '10⁻²' : ''",
                           "tickSize": {"condition": {"test": "datum.value==1||datum.value==0.1||datum.value==0.01", "value": -17}, "value": -12}, "labelPadding": 21}},
            "color": {"field": "s", "type": "nominal", "scale": {"domain": ["z = 5.1 (xᵢ = 0.99)", "z = 6.5 (xᵢ = 0.78)", "z = 9.1 (xᵢ = 0.34)", "Best Exponential Fit"], "range": ["red", "red", "red", "blue"]},
                      "legend": {"title": null, "orient": "none", "legendX": 32.5, "legendY": 5.6, "values": ["z = 5.1 (xᵢ = 0.99)", "z = 6.5 (xᵢ = 0.78)", "z = 9.1 (xᵢ = 0.34)"]}},
            "strokeDash": {"field": "s", "type": "nominal", "scale": {"domain": ["z = 5.1 (xᵢ = 0.99)", "z = 6.5 (xᵢ = 0.78)", "z = 9.1 (xᵢ = 0.34)", "Best Exponential Fit"], "range": [[1, 0], [12, 5], [19, 5, 3, 5], [2.5, 4.1]]},
                      "legend": {"title": null, "orient": "none", "legendX": 32.5, "legendY": 5.6, "values": ["z = 5.1 (xᵢ = 0.99)", "z = 6.5 (xᵢ = 0.78)", "z = 9.1 (xᵢ = 0.34)"]}}
          }
        },
        {
          "data": {"name": "p3f"},
          "mark": {"type": "line", "clip": true, "strokeWidth": 2.5, "color": "blue", "strokeDash": [2.5, 4.1]},
          "encoding": {
            "x": {"field": "R", "type": "quantitative", "scale": {"type": "log", "domain": [1.08, 8000], "nice": false},
                  "axis": {"orient": "top", "labels": false, "title": null, "values": [2,3,4,5,6,7,8,9,10,20,30,40,50,60,70,80,90,100,200,300,400,500,600,700,800,900,1000,2000,3000,4000,5000,6000,7000],
                           "tickSize": {"condition": {"test": "datum.value==10||datum.value==100||datum.value==1000", "value": -17}, "value": -12}}},
            "y": {"field": "P", "type": "quantitative", "scale": {"type": "log", "domain": [0.002, 1.54], "nice": false},
                  "axis": {"orient": "right", "labels": false, "title": null, "values": [0.002,0.003,0.004,0.005,0.006,0.007,0.008,0.009,0.01,0.02,0.03,0.04,0.05,0.06,0.07,0.08,0.09,0.1,0.2,0.3,0.4,0.5,0.6,0.7,0.8,0.9,1],
                           "tickSize": {"condition": {"test": "datum.value==1||datum.value==0.1||datum.value==0.01", "value": -17}, "value": -12}}},
            "detail": {"field": "c", "type": "nominal"}
          }
        },
        {
          "data": {"values": [{"R": 244, "P": 0.005, "t": "Early Start"}]},
          "mark": {"type": "text", "align": "left", "baseline": "alphabetic", "font": "DejaVu Serif", "fontSize": 20, "color": "black"},
          "encoding": {
            "x": {"field": "R", "type": "quantitative", "axis": null},
            "y": {"field": "P", "type": "quantitative", "axis": null},
            "text": {"field": "t"}
          }
        }
      ]
    },
    {
      "width": 474, "height": 336,
      "resolve": {"axis": {"x": "independent", "y": "independent"}},
      "layer": [
        {
          "data": {"name": "p4"},
          "mark": {"type": "line", "clip": true, "strokeWidth": 3.2},
          "encoding": {
            "x": {"field": "R", "type": "quantitative", "scale": {"type": "log", "domain": [1.08, 8000], "nice": false},
                  "axis": {"orient": "bottom", "title": "R [h⁻¹Mpc]", "titleX": 237, "titleY": 39, "titleBaseline": "middle", "values": [2,3,4,5,6,7,8,9,10,20,30,40,50,60,70,80,90,100,200,300,400,500,600,700,800,900,1000,2000,3000,4000,5000,6000,7000],
                           "labelExpr": "datum.value==10 ? '10¹' : datum.value==100 ? '10²' : datum.value==1000 ? '10³' : ''",
                           "tickSize": {"condition": {"test": "datum.value==10||datum.value==100||datum.value==1000", "value": -17}, "value": -12}, "labelPadding": 19}},
            "y": {"field": "P", "type": "quantitative", "scale": {"type": "log", "domain": [0.002, 1.54], "nice": false},
                  "axis": {"orient": "left", "title": "dP/dlnR", "titleFont": "DejaVu Sans", "titleFontStyle": "italic", "titleFontSize": 19, "titleX": -70, "titleY": 168, "titleBaseline": "middle", "values": [0.002,0.003,0.004,0.005,0.006,0.007,0.008,0.009,0.01,0.02,0.03,0.04,0.05,0.06,0.07,0.08,0.09,0.1,0.2,0.3,0.4,0.5,0.6,0.7,0.8,0.9,1],
                           "labelExpr": "datum.value==1 ? '10⁰' : datum.value==0.1 ? '10⁻¹' : datum.value==0.01 ? '10⁻²' : ''",
                           "tickSize": {"condition": {"test": "datum.value==1||datum.value==0.1||datum.value==0.01", "value": -17}, "value": -12}, "labelPadding": 21}},
            "color": {"field": "s", "type": "nominal", "scale": {"domain": ["z = 5.1 (xᵢ = 1.00)", "z = 6.5 (xᵢ = 0.85)", "z = 9.1 (xᵢ = 0.54)", "Best Exponential Fit"], "range": ["#bf00bf", "#bf00bf", "#bf00bf", "blue"]},
                      "legend": {"title": null, "orient": "none", "legendX": 32.6, "legendY": 5.6, "values": ["z = 5.1 (xᵢ = 1.00)", "z = 6.5 (xᵢ = 0.85)", "z = 9.1 (xᵢ = 0.54)"]}},
            "strokeDash": {"field": "s", "type": "nominal", "scale": {"domain": ["z = 5.1 (xᵢ = 1.00)", "z = 6.5 (xᵢ = 0.85)", "z = 9.1 (xᵢ = 0.54)", "Best Exponential Fit"], "range": [[1, 0], [12, 5], [19, 5, 3, 5], [2.5, 4.1]]},
                      "legend": {"title": null, "orient": "none", "legendX": 32.6, "legendY": 5.6, "values": ["z = 5.1 (xᵢ = 1.00)", "z = 6.5 (xᵢ = 0.85)", "z = 9.1 (xᵢ = 0.54)"]}}
          }
        },
        {
          "data": {"name": "p4f"},
          "mark": {"type": "line", "clip": true, "strokeWidth": 2.5, "color": "blue", "strokeDash": [2.5, 4.1]},
          "encoding": {
            "x": {"field": "R", "type": "quantitative", "scale": {"type": "log", "domain": [1.08, 8000], "nice": false},
                  "axis": {"orient": "top", "labels": false, "title": null, "values": [2,3,4,5,6,7,8,9,10,20,30,40,50,60,70,80,90,100,200,300,400,500,600,700,800,900,1000,2000,3000,4000,5000,6000,7000],
                           "tickSize": {"condition": {"test": "datum.value==10||datum.value==100||datum.value==1000", "value": -17}, "value": -12}}},
            "y": {"field": "P", "type": "quantitative", "scale": {"type": "log", "domain": [0.002, 1.54], "nice": false},
                  "axis": {"orient": "right", "labels": false, "title": null, "values": [0.002,0.003,0.004,0.005,0.006,0.007,0.008,0.009,0.01,0.02,0.03,0.04,0.05,0.06,0.07,0.08,0.09,0.1,0.2,0.3,0.4,0.5,0.6,0.7,0.8,0.9,1],
                           "tickSize": {"condition": {"test": "datum.value==1||datum.value==0.1||datum.value==0.01", "value": -17}, "value": -12}}},
            "detail": {"field": "c", "type": "nominal"}
          }
        },
        {
          "data": {"values": [{"R": 108, "P": 0.005, "t": "Very Early Start"}]},
          "mark": {"type": "text", "align": "left", "baseline": "alphabetic", "font": "DejaVu Serif", "fontSize": 20, "color": "black"},
          "encoding": {
            "x": {"field": "R", "type": "quantitative", "axis": null},
            "y": {"field": "P", "type": "quantitative", "axis": null},
            "text": {"field": "t"}
          }
        }
      ]
    }
  ]
}
